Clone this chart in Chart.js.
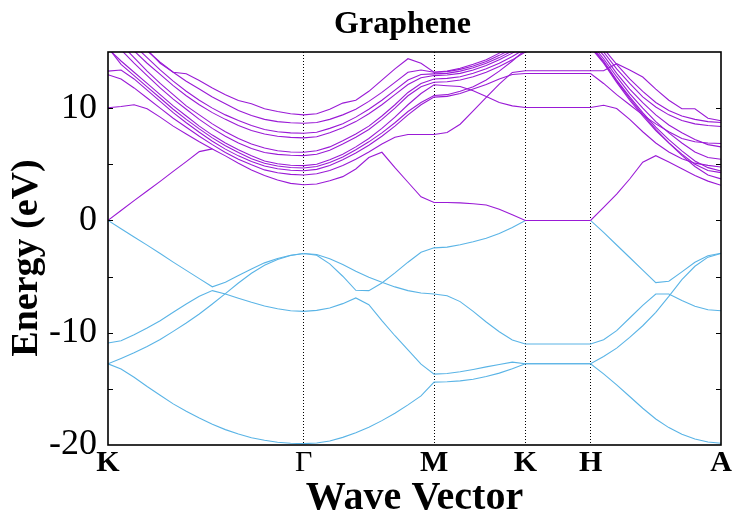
<!DOCTYPE html>
<html>
<head>
<meta charset="utf-8">
<script src="https://cdn.jsdelivr.net/npm/chart.js@4.4.1/dist/chart.umd.min.js"></script>
<style>
  html, body { margin: 0; padding: 0; background: #fff; }
  #wrap { width: 732px; height: 516px; }
</style>
</head>
<body>
<div id="wrap"><canvas id="bands" width="732" height="516"></canvas></div>
<script>
// high-symmetry path, k-point index of each label
const kLabels = ['K', 'Γ', 'M', 'K', 'H', 'A'];
const kTickIdx = [0, 15, 25, 32, 37, 47];
const energyTicks = [-20, -10, 0, 10];
const minorTicks = [-15, -10, -5, 0, 5, 10];

// valence bands (eV), 48 k-points: K-G 0..15, G-M ..25, M-K ..32, K-H ..37, H-A ..47
const val1 = [0, -0.74, -1.47, -2.2, -2.95, -3.71, -4.45, -5.18, -5.91, -5.51, -4.91, -4.32, -3.78, -3.39, -3.1, -2.95,
  -3.1, -3.87, -4.97, -6.22, -6.25, -5.57, -4.67, -3.72, -2.83, -2.44,
  -2.38, -2.17, -1.9, -1.58, -1.16, -0.63, 0,
  0, 0, 0, 0, 0,
  -1.07, -2.19, -3.3, -4.43, -5.54, -5.42, -4.58, -3.72, -3.15, -2.92];
const val2 = [-12.77, -12.29, -11.79, -11.22, -10.6, -9.88, -9.14, -8.33, -7.44, -6.52, -5.57, -4.7, -3.99, -3.48, -3.13, -2.95,
  -3.04, -3.42, -3.93, -4.52, -5.06, -5.51, -5.92, -6.25, -6.46, -6.55,
  -6.7, -7.23, -8.1, -9.05, -9.91, -10.65, -11.0,
  -11.0, -11.0, -11.0, -11.0, -11.0,
  -10.63, -9.82, -8.69, -7.56, -6.55, -6.55, -7.14, -7.65, -7.95, -8.04];
const val3 = [-10.92, -10.71, -10.18, -9.58, -8.93, -8.18, -7.44, -6.76, -6.25, -6.55, -6.93, -7.29, -7.62, -7.86, -8.04, -8.1,
  -8.01, -7.8, -7.41, -6.9, -7.5, -8.93, -10.27, -11.52, -12.8, -13.69,
  -13.63, -13.48, -13.27, -13.04, -12.83, -12.62, -12.77,
  -12.77, -12.77, -12.77, -12.77, -12.77,
  -12.11, -11.37, -10.42, -9.38, -8.18, -6.76, -5.27, -4.08, -3.27, -2.95];
const val4 = [-12.77, -13.24, -13.96, -14.79, -15.57, -16.34, -16.99, -17.59, -18.15, -18.63, -19.02, -19.35, -19.58, -19.76, -19.85, -19.88,
  -19.82, -19.64, -19.32, -18.9, -18.42, -17.83, -17.17, -16.43, -15.63, -14.4,
  -14.37, -14.29, -14.14, -13.9, -13.6, -13.21, -12.77,
  -12.77, -12.77, -12.77, -12.77, -12.77,
  -13.66, -14.64, -15.68, -16.73, -17.68, -18.45, -19.05, -19.46, -19.73, -19.85];

// conduction bands (eV)
const condPi = [0, 0.88, 1.76, 2.62, 3.48, 4.37, 5.24, 6.13, 6.37, null, null, null, null, null, null, null,
  null, null, null, null, null, null, null, null, null, null,
  null, null, null, null, null, null, null,
  null, null, null, null, null,
  null, null, null, null, null, null, null, null, null, null];
const cond1 = [10.03, 10.15, 10.3, 9.94, 9.2, 8.4, 7.7, 7.0, 6.37, 5.75, 5.1, 4.5, 4.0, 3.6, 3.3, 3.18,
  3.24, 3.54, 3.9, 4.58, 5.6, 6.07, 4.7, 3.4, 2.1, 1.6,
  1.6, 1.56, 1.48, 1.37, 1.0, 0.5, 0,
  0, 0, 0, 0, 0,
  1.16, 2.35, 3.69, 5.18, 5.77, 5.2, 4.6, 4.0, 3.5, 3.13];
const cond2 = [12.98, 12.6, 11.8, 10.9, 10.0, 9.1, 8.3, 7.5, 6.75, 6.05, 5.45, 4.95, 4.5, 4.25, 4.1, 4.05,
  4.15, 4.45, 4.9, 5.45, 6.1, 6.8, 7.4, 7.65, 7.65, 7.65,
  7.83, 8.57, 9.76, 10.95, 12.14, 13.18, 13.33,
  13.33, 13.33, 13.33, 13.33, 13.33,
  13.33, 13.96, 13.4, 12.77, 11.7, 10.7, 9.94, 9.94, 9.1, 8.87];
const cond3 = [13.3, 13.4, 12.6, 11.6, 10.6, 9.6, 8.7, 7.85, 7.05, 6.35, 5.75, 5.25, 4.85, 4.6, 4.47, 4.43,
  4.55, 4.9, 5.4, 6.0, 6.7, 7.5, 8.4, 9.4, 10.3, 10.98,
  11.05, 11.3, 11.7, 12.1, 12.6, 13.0, 13.08,
  13.08, 13.08, 13.08, 13.08, 13.08,
  12.2, 11.2, 10.3, 9.4, 8.6, 7.9, 7.3, 7.0, 6.9, 6.85];
const cond4 = [15.4, 13.9, 12.9, 11.9, 10.9, 9.9, 9.0, 8.15, 7.35, 6.65, 6.05, 5.5, 5.1, 4.85, 4.72, 4.67,
  4.8, 5.15, 5.65, 6.3, 7.0, 7.8, 8.7, 9.7, 10.5, 11.13,
  11.2, 11.5, 11.9, 12.5, 13.3, 14.2, 15.2,
  15.5, 15.5, 15.5, 15.5, 15.5,
  14.1, 12.4, 10.85, 9.45, 8.1, 6.9, 5.8, 4.8, 4.05, 3.7];
const cond5 = [15.3, 14.2, 13.2, 12.2, 11.2, 10.2, 9.3, 8.4, 7.6, 6.9, 6.3, 5.75, 5.3, 5.05, 4.92, 4.88,
  5.0, 5.4, 5.9, 6.55, 7.3, 8.2, 9.2, 10.3, 11.3, 12.08,
  12.0, 11.93, 11.55, 11.04, 10.5, 10.2, 10.06,
  10.06, 10.06, 10.06, 10.06, 10.06,
  10.26, 9.97, 9.0, 7.9, 6.9, 6.1, 5.5, 5.1, 4.9, 4.76];
const cond6 = [16.5, 15.2, 14.0, 12.9, 11.8, 10.8, 9.9, 9.0, 8.2, 7.5, 6.9, 6.4, 6.05, 5.88, 5.8, 5.77,
  5.9, 6.25, 6.8, 7.4, 8.1, 9.0, 10.0, 11.1, 11.9, 12.3,
  12.35, 12.5, 12.8, 13.2, 13.7, 14.3, 15.0,
  15.3, 15.3, 15.3, 15.3, 15.4,
  14.0, 12.3, 10.7, 9.3, 8.0, 6.9, 5.9, 5.0, 4.45, 4.26];
const cond7 = [17.0, 15.7, 14.5, 13.3, 12.2, 11.2, 10.2, 9.4, 8.6, 7.9, 7.3, 6.8, 6.45, 6.2, 6.1, 6.07,
  6.2, 6.55, 7.1, 7.7, 8.4, 9.3, 10.3, 11.4, 12.2, 12.6,
  12.65, 12.8, 13.1, 13.5, 14.0, 14.6, 15.3,
  15.5, 15.5, 15.5, 15.5, 15.6,
  14.2, 12.5, 11.0, 9.6, 8.3, 7.2, 6.2, 5.3, 4.7, 4.4];
const cond8 = [17.5, 16.3, 15.1, 14.0, 13.0, 12.0, 11.1, 10.3, 9.6, 9.0, 8.45, 8.0, 7.7, 7.5, 7.4, 7.35,
  7.45, 7.8, 8.25, 8.8, 9.5, 10.3, 11.2, 12.1, 12.7, 12.9,
  12.95, 13.1, 13.4, 13.8, 14.3, 14.9, 15.6,
  15.7, 15.7, 15.7, 15.7, 15.8,
  14.4, 12.8, 11.3, 10.0, 8.8, 7.8, 6.9, 6.1, 5.6, 5.45];
const cond9 = [18.0, 16.8, 15.6, 14.5, 13.4, 12.4, 11.5, 10.7, 10.0, 9.4, 8.9, 8.45, 8.1, 7.9, 7.8, 7.77,
  7.85, 8.2, 8.6, 9.2, 9.9, 10.7, 11.6, 12.5, 13.0, 13.05,
  13.1, 13.3, 13.6, 14.0, 14.5, 15.1, 15.8,
  15.9, 15.9, 15.9, 15.9, 16.0,
  14.7, 13.1, 11.7, 10.5, 9.4, 8.5, 7.8, 7.2, 6.75, 6.55];
const cond10 = [18.5, 17.4, 16.2, 15.1, 14.1, 13.2, 12.4, 11.7, 11.0, 10.4, 9.8, 9.35, 9.0, 8.8, 8.7, 8.66,
  8.72, 9.0, 9.4, 9.9, 10.6, 11.4, 12.3, 13.2, 13.4, 13.2,
  13.25, 13.45, 13.75, 14.15, 14.7, 15.3, 16.0,
  16.1, 16.1, 16.1, 16.1, 16.3,
  15.0, 13.5, 12.2, 11.0, 10.1, 9.4, 8.9, 8.6, 8.45, 8.36];
const cond11 = [18.5, 17.4, 16.3, 15.2, 14.0, 13.2, 13.07, 12.47, 11.8, 11.2, 10.68, 10.39, 9.94, 9.7, 9.5, 9.4,
  9.5, 9.9, 10.45, 10.7, 11.5, 12.5, 13.5, 14.4, 14.0, 13.2,
  13.3, 13.55, 13.9, 14.3, 14.9, 15.5, 16.2,
  16.3, 16.3, 16.3, 16.3, 16.5,
  15.3, 13.9, 12.6, 11.5, 10.5, 9.8, 9.3, 9.0, 8.8, 8.72];

const conduction = [condPi, cond1, cond2, cond3, cond4, cond5, cond6, cond7, cond8, cond9, cond10, cond11];
const valence = [val1, val2, val3, val4];

const PURPLE = '#9a1ad6';
const BLUE = '#5ab4e6';

function bandSet(band, color) {
  return {
    data: band.map((e, i) => ({ x: i, y: e })),
    borderColor: color,
    borderWidth: 1.1,
    pointRadius: 0,
    tension: 0,
    fill: false
  };
}

// box round the plot and the small inner ticks every 5 eV
const frame = {
  id: 'frame',
  afterDatasetsDraw(chart) {
    const { ctx, chartArea: a, scales: { y } } = chart;
    ctx.save();
    ctx.strokeStyle = '#000';
    ctx.lineWidth = 1;
    minorTicks.forEach(v => {
      const py = Math.round(y.getPixelForValue(v)) + 0.5;
      ctx.beginPath();
      ctx.moveTo(a.left, py); ctx.lineTo(a.left + 5, py);
      ctx.moveTo(a.right, py); ctx.lineTo(a.right - 5, py);
      ctx.stroke();
    });
    ctx.lineWidth = 1.6;
    ctx.strokeRect(a.left, a.top, a.right - a.left, a.bottom - a.top);
    ctx.restore();
  }
};

const serif = 'Liberation Serif';

new Chart(document.getElementById('bands'), {
  type: 'line',
  data: {
    datasets: [
      ...conduction.map(b => bandSet(b, PURPLE)),
      ...valence.map(b => bandSet(b, BLUE))
    ]
  },
  options: {
    responsive: false,
    animation: false,
    devicePixelRatio: 1,
    layout: { padding: { top: 0, right: 11, bottom: 0, left: 0 } },
    plugins: {
      legend: { display: false },
      tooltip: { enabled: false },
      title: {
        display: true,
        fullSize: false,
        text: 'Graphene   ',
        color: '#000',
        font: { family: serif, size: 32, weight: 'bold' },
        padding: { top: 6, bottom: 7.6 }
      }
    },
    scales: {
      x: {
        type: 'linear',
        min: 0,
        max: 47,
        afterBuildTicks: s => { s.ticks = kTickIdx.map(v => ({ value: v })); },
        afterFit: s => { s.height = 71; s.paddingLeft = 0; s.paddingRight = 0; },
        ticks: {
          autoSkip: false,
          maxRotation: 0,
          padding: 0,
          color: '#000',
          callback: (v, i) => kLabels[i],
          font: c => ({ family: serif, size: 30, weight: (c.tick && c.tick.label === 'Γ') ? 'normal' : 'bold' })
        },
        grid: {
          drawTicks: false,
          lineWidth: 1,
          color: c => (c.tick && c.tick.value > 0 && c.tick.value < 47) ? '#000' : 'rgba(0,0,0,0)'
        },
        border: { display: false, dash: [1, 2] },
        title: {
          display: true,
          text: 'Wave Vector',
          color: '#000',
          font: { family: serif, size: 40, weight: 'bold' },
          padding: { top: 0, bottom: -7 }
        }
      },
      y: {
        min: -20,
        max: 15,
        afterBuildTicks: s => { s.ticks = energyTicks.map(v => ({ value: v })); },
        afterFit: s => { s.width = 108; },
        ticks: {
          padding: 3,
          color: '#000',
          font: { family: serif, size: 36 },
          callback: v => String(v)
        },
        grid: { display: false },
        border: { display: false },
        title: {
          display: true,
          text: 'Energy (eV)  ',
          color: '#000',
          font: { family: serif, size: 38, weight: 'bold' },
          padding: { top: 4, bottom: 0 }
        }
      }
    }
  },
  plugins: [frame]
});
</script>
</body>
</html>
